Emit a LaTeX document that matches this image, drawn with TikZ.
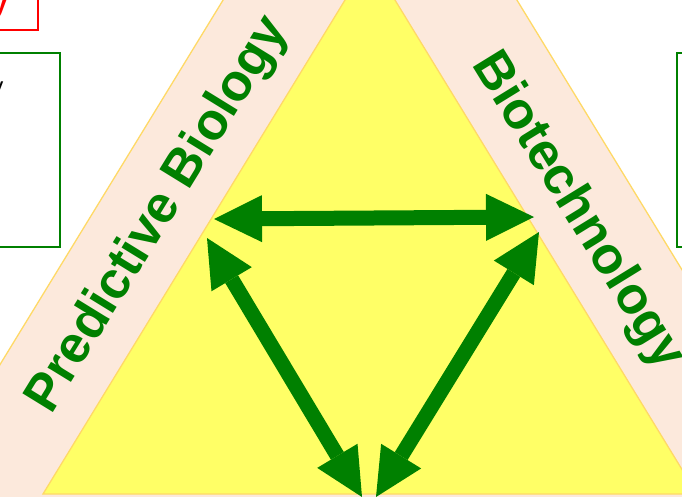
\documentclass[tikz,border=0pt]{standalone}
\usepackage{fontspec}
\setmainfont{Liberation Sans}
\usetikzlibrary{arrows.meta}
\definecolor{peach}{RGB}{252,233,220}
\definecolor{yel}{RGB}{255,255,102}
\definecolor{gold}{RGB}{255,217,102}
\definecolor{dgreen}{RGB}{0,128,0}
\tikzset{
  band/.style={fill=peach, draw=gold, line width=1.3pt},
  core/.style={fill=yel, draw=gold, line width=1.3pt},
  lbl/.style={text=dgreen, font=\fontsize{52}{60}\selectfont\bfseries, inner sep=0pt},
  dbl/.style={draw=dgreen, line width=15pt,
    {Triangle[length=48pt,width=47pt,line width=0pt]}-{Triangle[length=48pt,width=47pt,line width=0pt]}},
  gbox/.style={draw=dgreen, line width=1.3pt, fill=white},
  rbox/.style={draw=red, line width=1.3pt, fill=white}
}
\begin{document}
\begin{tikzpicture}[x=1pt,y=-1pt]
\useasboundingbox (0,0) rectangle (682,497);
% side boxes (partly outside the picture)
\draw[rbox] (-20,-20) rectangle (38,30);
\node[text=red, font=\fontsize{28}{30}\selectfont\bfseries, anchor=base east, inner sep=0pt] (rt1) at (8,13) {y};
\draw[gbox] (-20,53) rectangle (60,247);
\node[font=\fontsize{24}{28}\selectfont, anchor=base east, inner sep=0pt] (lt1) at (3.5,95) {y};
\draw[gbox] (677,53) rectangle (720,247);
% triangles
\path[band] (370,-240) -- ({370-0.612*840},600) -- ({370+0.612*840},600) -- cycle;
\path[core] (370,-40.8) -- (43,494) -- (697,494) -- cycle;
% labels
\node[lbl, rotate=58.4, anchor=base] (pb) at (170,222) {Predictive Biology};
\node[lbl, rotate=-58.4, anchor=base] (bt) at (566,218) {Biotechnology};
% arrow end points
\coordinate (tl) at (214,219);
\coordinate (tr) at (534,217);
\coordinate (lt) at (207,238);
\coordinate (lb) at (362,497);
\coordinate (rt) at (539,232);
\coordinate (rb) at (376,497);
\draw[dbl] (tl) -- (tr);
\draw[dbl] (lt) -- (lb);
\draw[dbl] (rt) -- (rb);
\end{tikzpicture}
\end{document}
